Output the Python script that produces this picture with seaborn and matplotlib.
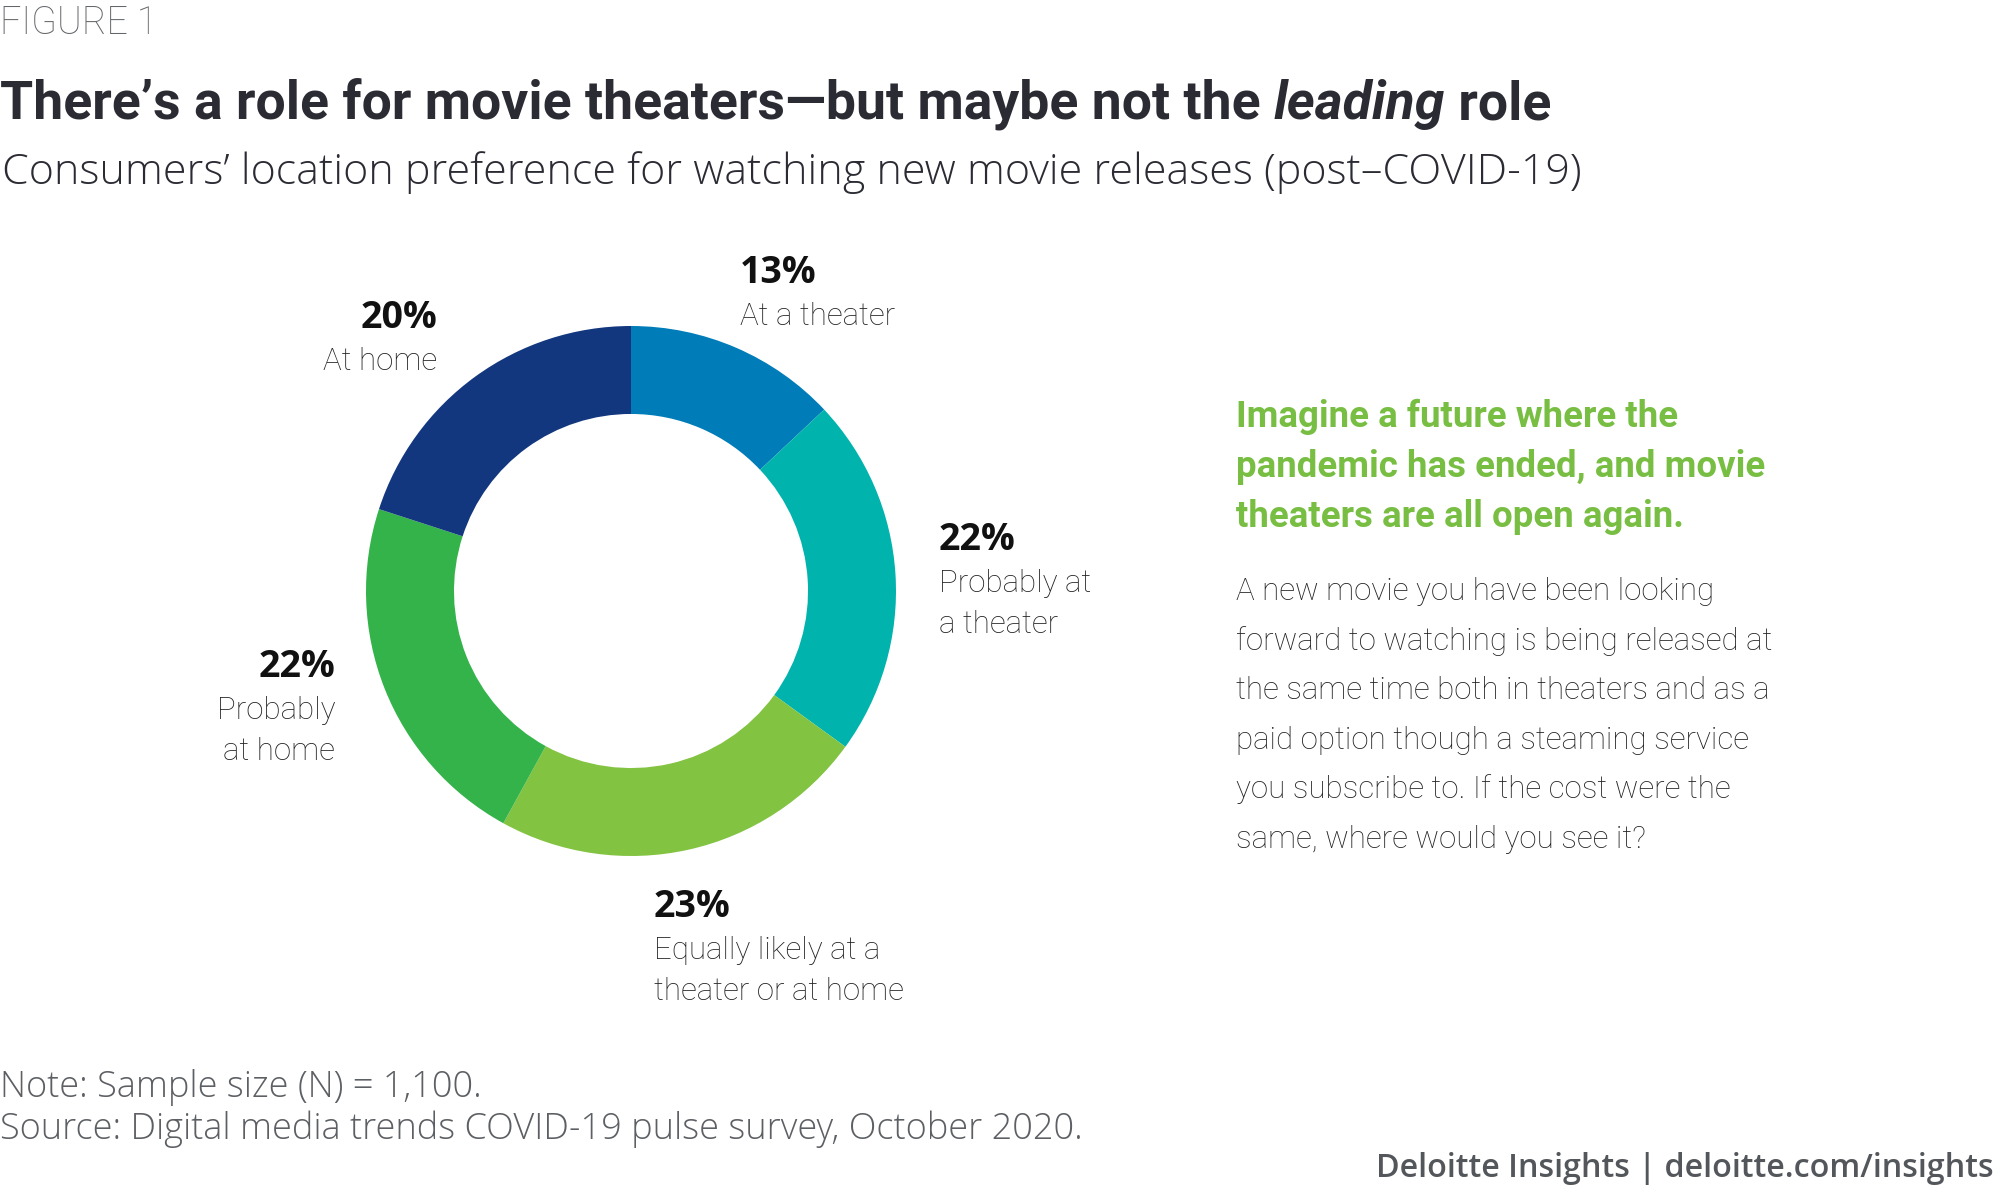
import matplotlib
matplotlib.use("Agg")
import matplotlib.pyplot as plt
import seaborn as sns

# data
categories = ["At a theater", "Probably at\na theater", "Equally likely at a\ntheater or at home",
              "Probably\nat home", "At home"]
shares = [13, 22, 23, 22, 20]
colors = ["#007cb8", "#00b4ad", "#82c341", "#33b34a", "#13377f"]

title_parts = ["There\u2019s a role for movie theaters\u2014but maybe not the ", "leading", " role"]
subtitle = "Consumers\u2019 location preference for watching new movie releases (post\u2013COVID-19)"
question_head = ["Imagine a future where the", "pandemic has ended, and movie", "theaters are all open again."]
question_body = ["A new movie you have been looking",
                 "forward to watching is being released at",
                 "the same time both in theaters and as a",
                 "paid option though a steaming service",
                 "you subscribe to. If the cost were the",
                 "same, where would you see it?"]
note = "Note: Sample size (N) = 1,100."
source = "Source: Digital media trends COVID-19 pulse survey, October 2020."
footer = "Deloitte Insights | deloitte.com/insights"

sns.set_theme(style="white")
plt.rcParams["font.family"] = ["Open Sans", "DejaVu Sans"]
narrow = ["Roboto", "DejaVu Sans"]

W, H = 2000, 1199
fig = plt.figure(figsize=(W / 100, H / 100), dpi=100)


def put(x, y, s, **kw):
    # x, y in pixels from top-left, y is the baseline
    kw.setdefault("va", "baseline")
    return fig.text(x / W, 1 - y / H, s, **kw)


# header
put(0, 34, "FIGURE 1", family=narrow, fontsize=27, fontweight="light", color="#63666a")
fig.canvas.draw()
renderer = fig.canvas.get_renderer()
x = 0
for i, part in enumerate(title_parts):
    t = put(x, 119, part, family=narrow, fontsize=38.5, fontweight="bold",
            style="italic" if i == 1 else "normal", color="#2a2b33")
    x += t.get_window_extent(renderer).width
put(2, 184, subtitle, fontsize=31, fontweight="light", color="#2a2b33")

# donut
cx, cy, r = 631, 591, 265
ax = fig.add_axes([(cx - r) / W, (H - cy - r) / H, 2 * r / W, 2 * r / H])
ax.pie(shares, colors=sns.color_palette(colors), startangle=90, counterclock=False,
       wedgeprops=dict(width=0.332, linewidth=0))
ax.set_xlim(-1, 1)
ax.set_ylim(-1, 1)
ax.set_aspect("equal")
ax.axis("off")

# label anchors (px): x, baseline of the percent, alignment
label_pos = [(740, 283, "left"), (939, 550, "left"), (654, 917, "left"),
             (335, 677, "right"), (437, 328, "right")]
for cat, val, (lx, ly, ha) in zip(categories, shares, label_pos):
    put(lx, ly, f"{val}%", fontsize=27, fontweight="bold", color="#111111", ha=ha)
    for j, line in enumerate(cat.split("\n")):
        put(lx, ly + 42 + j * 41, line, family=narrow, fontsize=22.5, fontweight="light",
            color="#222222", ha=ha)

# question box
for j, line in enumerate(question_head):
    put(1236, 427 + j * 50, line, family=narrow, fontsize=26.4, fontweight="bold", color="#78be43")
for j, line in enumerate(question_body):
    put(1236, 600 + j * 49.6, line, family=narrow, fontsize=22.5, fontweight="light", color="#222222")

# footnotes
put(0, 1097, note, fontsize=26, fontweight="light", color="#5c5f63")
put(0, 1139, source, fontsize=26, fontweight="light", color="#5c5f63")
put(1994, 1177, footer, fontsize=23.2, fontweight="semibold", color="#53565a", ha="right")

fig.savefig("out.png", dpi=100)
